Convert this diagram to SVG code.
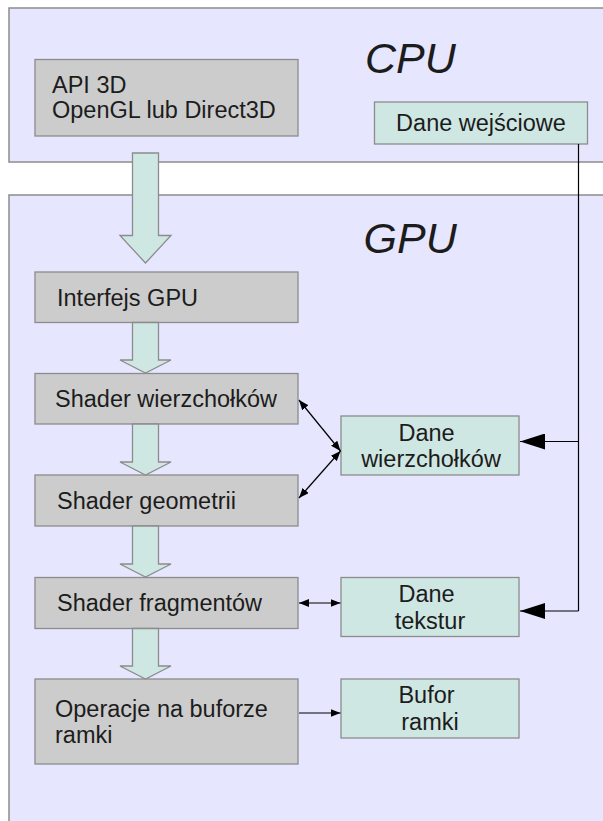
<svg xmlns="http://www.w3.org/2000/svg" width="603" height="821" viewBox="0 0 603 821">
<defs>
<style>
.region{fill:#e6e6ff;stroke:#8c8c8c;stroke-width:1.5}
.gbox{fill:#cccccc;stroke:#8c8c8c;stroke-width:1.3}
.tbox{fill:#cfe7e3;stroke:#8c8c8c;stroke-width:1.3}
.bigarrow{fill:#cfe7e3;stroke:#8c8c8c;stroke-width:1.3;stroke-linejoin:miter}
text{font-family:"Liberation Sans",Arial,sans-serif;font-size:23.5px;fill:#1c1c1c}
.title{font-size:43px;font-style:italic}
.mid{text-anchor:middle}
.conn{stroke:#000;stroke-width:1.2;fill:none}
</style>
<marker id="ah" viewBox="0 0 10 8" refX="10" refY="4" markerWidth="10" markerHeight="8" orient="auto-start-reverse" markerUnits="userSpaceOnUse">
<path d="M0,0 L10,4 L0,8 z" fill="#000"/>
</marker>
<marker id="big" viewBox="0 0 25 16" refX="25" refY="8" markerWidth="25" markerHeight="16" orient="auto" markerUnits="userSpaceOnUse">
<path d="M0,0 L25,8 L0,16 z" fill="#000"/>
</marker>
</defs>

<g id="cpu">
<rect class="region" x="9" y="8" width="620" height="154"/>
<text class="title" x="365" y="73.3">CPU</text>
</g>
<g id="gpu">
<rect class="region" x="9" y="195" width="620" height="650"/>
<text class="title" x="363.5" y="253.3">GPU</text>
</g>

<g id="api3d">
<rect class="gbox" x="35" y="59.5" width="263" height="76.5"/>
<text x="52" y="92.7">API 3D</text>
<text x="52" y="117.7">OpenGL lub Direct3D</text>
</g>
<g id="dane-wejsciowe">
<rect class="tbox" x="374.5" y="102" width="213" height="42"/>
<text class="mid" x="481" y="131">Dane wejściowe</text>
</g>
<g id="interfejs-gpu">
<rect class="gbox" x="35" y="272" width="263" height="50.5"/>
<text x="57" y="306">Interfejs GPU</text>
</g>
<g id="shader-wierzcholkow">
<rect class="gbox" x="35" y="373.5" width="263" height="50.5"/>
<text x="55" y="406.7">Shader wierzchołków</text>
</g>
<g id="shader-geometrii">
<rect class="gbox" x="35" y="475" width="263" height="51"/>
<text x="57" y="509">Shader geometrii</text>
</g>
<g id="shader-fragmentow">
<rect class="gbox" x="35" y="577.5" width="263" height="51"/>
<text x="57" y="611">Shader fragmentów</text>
</g>
<g id="operacje">
<rect class="gbox" x="35" y="679" width="263" height="85"/>
<text x="55" y="716.7">Operacje na buforze</text>
<text x="55" y="743.3">ramki</text>
</g>
<g id="dane-wierzcholkow">
<rect class="tbox" x="341" y="416" width="178" height="59"/>
<text class="mid" x="426.5" y="440.5">Dane</text>
<text class="mid" x="431" y="467">wierzchołków</text>
</g>
<g id="dane-tekstur">
<rect class="tbox" x="341" y="577.5" width="178" height="59"/>
<text class="mid" x="426.5" y="602">Dane</text>
<text class="mid" x="430" y="629">tekstur</text>
</g>
<g id="bufor-ramki">
<rect class="tbox" x="341" y="679" width="178" height="59"/>
<text class="mid" x="426.5" y="703">Bufor</text>
<text class="mid" x="430" y="730">ramki</text>
</g>

<g id="connectors">
<polygon class="bigarrow" points="132.5,153 158.5,153 158.5,235.5 171,235.5 145.5,263 120,235.5 132.5,235.5"/>
<polygon class="bigarrow" points="132.5,322.5 158.5,322.5 158.5,360 171,360 145.5,373 120,360 132.5,360"/>
<polygon class="bigarrow" points="132.5,424 158.5,424 158.5,462 171,462 145.5,475 120,462 132.5,462"/>
<polygon class="bigarrow" points="132.5,526 158.5,526 158.5,564 171,564 145.5,577 120,564 132.5,564"/>
<polygon class="bigarrow" points="132.5,628.5 158.5,628.5 158.5,666 171,666 145.5,679 120,666 132.5,666"/>
<path class="conn" d="M578.5,144 V611"/>
<path class="conn" d="M578.5,441.5 H520" marker-end="url(#big)"/>
<path class="conn" d="M578.5,611 H520" marker-end="url(#big)"/>
<path class="conn" d="M299,400 L340.5,451" marker-start="url(#ah)" marker-end="url(#ah)"/>
<path class="conn" d="M299,498 L340.5,451" marker-start="url(#ah)" marker-end="url(#ah)"/>
<path class="conn" d="M299,603 H340.5" marker-start="url(#ah)" marker-end="url(#ah)"/>
<path class="conn" d="M299,713 H340.5" marker-end="url(#ah)"/>
</g>
</svg>
